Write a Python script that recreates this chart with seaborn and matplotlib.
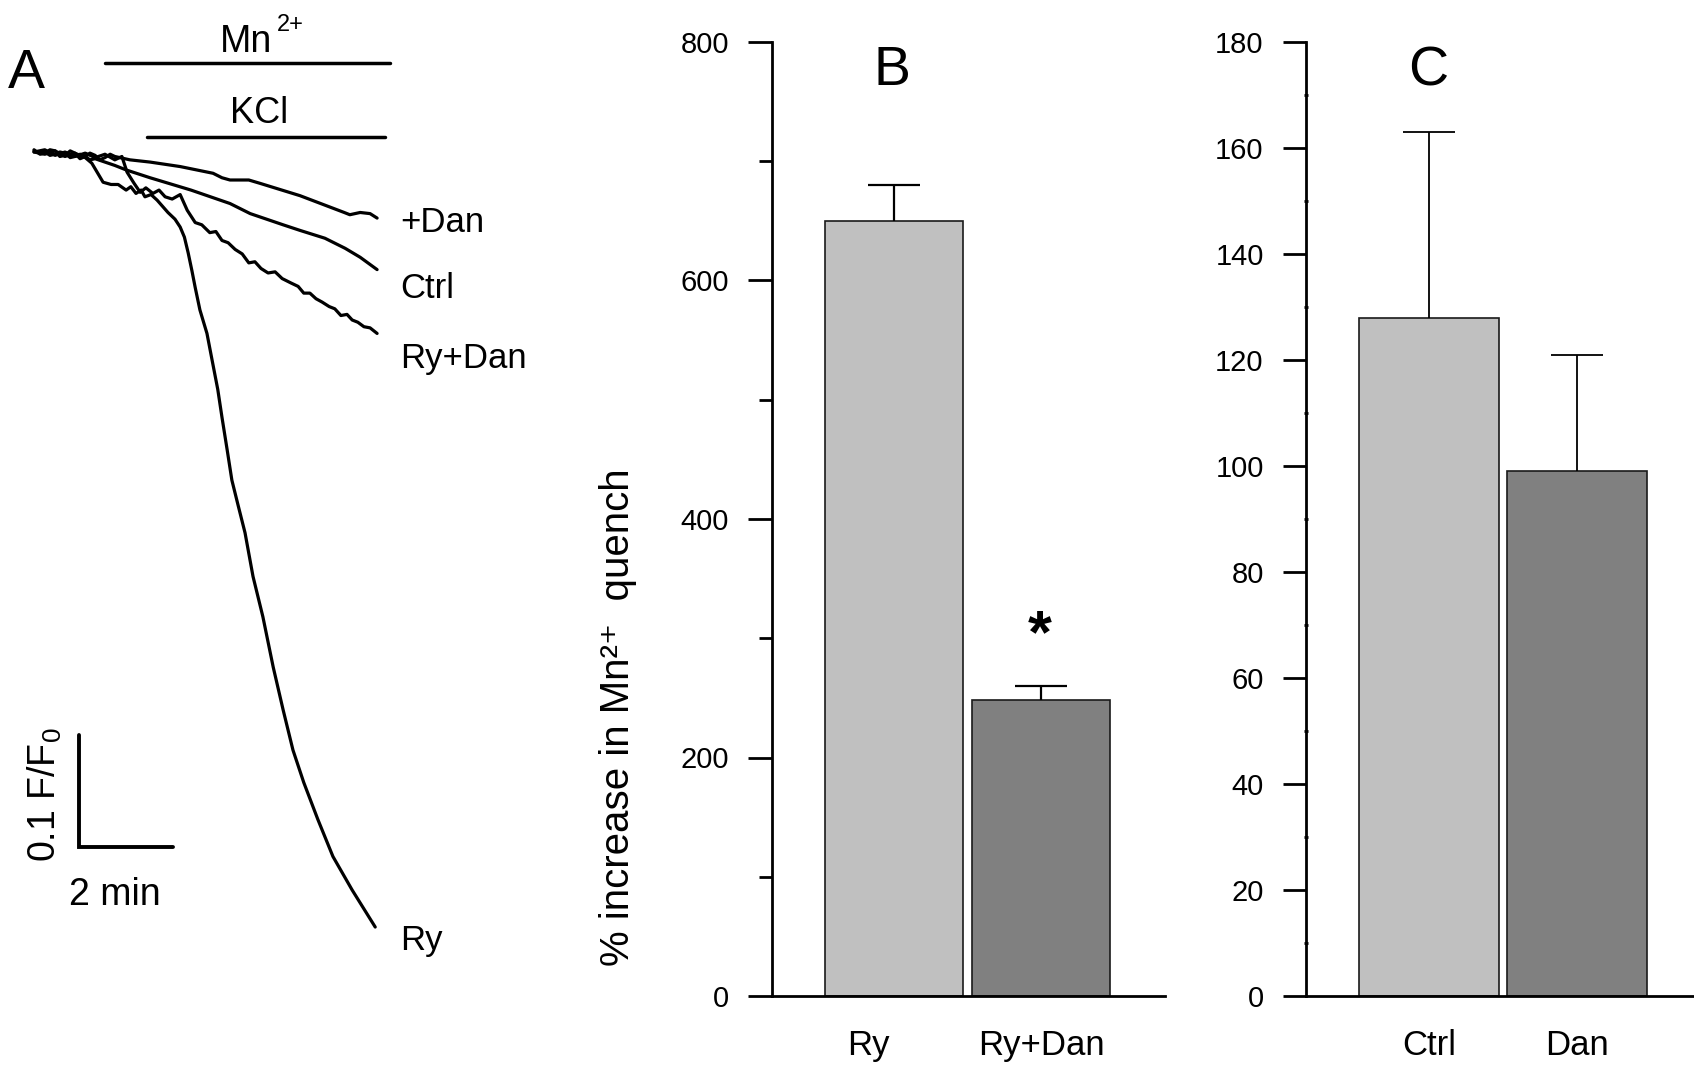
import numpy as np
import pandas as pd
import matplotlib
matplotlib.use("Agg")
import matplotlib.pyplot as plt
import seaborn as sns
from matplotlib.ticker import MultipleLocator
from matplotlib.transforms import ScaledTranslation

# ---------------- data ----------------
# Panel A: Mn2+ quench traces (time in min, normalised fluorescence F/F0)
dan_t = [0.00, 0.13, 0.23, 0.34, 0.45, 0.55, 0.66, 0.77, 0.87, 0.98, 1.09, 1.19, 1.30, 1.40,
         1.51, 1.62, 1.72, 2.04, 2.47, 3.11, 3.81, 4.00, 4.17, 4.57, 4.81, 5.66, 6.60, 6.72,
         6.94, 7.15, 7.30]
dan_f = [1.002, 0.998, 0.999, 1.002, 1.001, 0.996, 0.997, 1.001, 0.999, 0.994, 0.996, 0.999,
         0.997, 0.993, 0.995, 0.998, 0.996, 0.993, 0.991, 0.987, 0.981, 0.977, 0.975, 0.975,
         0.972, 0.961, 0.946, 0.944, 0.946, 0.945, 0.941]

ctrl_t = [0.00, 0.13, 0.23, 0.34, 0.45, 0.55, 0.66, 0.77, 0.87, 0.98, 1.09, 1.19, 1.30, 1.51,
          1.72, 1.96, 2.47, 3.34, 4.17, 4.60, 5.30, 5.66, 6.19, 6.62, 6.94, 7.30]
ctrl_f = [1.001, 0.999, 1.000, 0.997, 0.998, 1.000, 0.999, 0.995, 0.996, 0.998, 0.996, 0.993,
          0.994, 0.991, 0.988, 0.984, 0.977, 0.966, 0.954, 0.945, 0.935, 0.930, 0.923, 0.914,
          0.906, 0.895]

rydan_t = [0.00, 0.23, 0.45, 0.66, 0.87, 1.09, 1.30, 1.51, 1.72, 1.87, 1.98, 2.13, 2.26, 2.38,
           2.53, 2.66, 2.79, 2.94, 3.11, 3.26, 3.43, 3.57, 3.74, 3.87, 4.00, 4.13, 4.28, 4.43,
           4.57, 4.70, 4.83, 4.98, 5.13, 5.28, 5.47, 5.62, 5.74, 5.87, 6.00, 6.13, 6.28, 6.40,
           6.53, 6.66, 6.77, 6.89, 7.02, 7.15, 7.30]
rydan_f = [1.000, 1.002, 0.997, 1.000, 0.996, 0.999, 0.995, 0.998, 0.993, 0.996, 0.982, 0.972,
           0.964, 0.968, 0.963, 0.966, 0.960, 0.958, 0.962, 0.948, 0.937, 0.935, 0.928, 0.929,
           0.921, 0.919, 0.913, 0.909, 0.901, 0.902, 0.896, 0.892, 0.893, 0.887, 0.883, 0.880,
           0.874, 0.874, 0.869, 0.866, 0.862, 0.860, 0.854, 0.855, 0.850, 0.848, 0.844, 0.843,
           0.838]

ry_t = [0.00, 0.23, 0.45, 0.66, 0.87, 1.09, 1.23, 1.47, 1.64, 1.79, 1.96, 2.06, 2.17, 2.28,
        2.36, 2.49, 2.62, 2.85, 3.00, 3.11, 3.20, 3.28, 3.36, 3.43, 3.53, 3.68, 3.79, 3.91,
        4.00, 4.11, 4.21, 4.34, 4.49, 4.66, 4.87, 5.09, 5.30, 5.51, 5.74, 6.04, 6.36, 6.77,
        7.26]
ry_f = [1.000, 0.998, 1.001, 0.996, 0.999, 0.995, 0.990, 0.973, 0.971, 0.971, 0.966, 0.969,
        0.963, 0.966, 0.960, 0.962, 0.957, 0.946, 0.940, 0.933, 0.924, 0.910, 0.894, 0.879,
        0.859, 0.838, 0.814, 0.788, 0.763, 0.734, 0.707, 0.685, 0.660, 0.621, 0.585, 0.540,
        0.502, 0.466, 0.437, 0.404, 0.371, 0.341, 0.308]

trace_names = ["+Dan", "Ctrl", "Ry+Dan", "Ry"]

# application periods (min)
mn_on, mn_off = 1.51, 7.57
kcl_on, kcl_off = 2.40, 7.47

# Panel B
b_groups = ["Ry", "Ry+Dan"]
b_means = [650, 248]
b_sem = [30, 12]

# Panel C
c_groups = ["Ctrl", "Dan"]
c_means = [128, 99]
c_sem = [35, 22]

# ---------------- style ----------------
sns.set_style("white")
plt.rcParams["font.family"] = ["Liberation Sans", "DejaVu Sans"]
plt.rcParams["mathtext.fontset"] = "custom"
plt.rcParams["mathtext.rm"] = "Liberation Sans"
plt.rcParams["mathtext.default"] = "regular"
for k in ["text.color", "axes.labelcolor", "xtick.color", "ytick.color", "axes.edgecolor"]:
    plt.rcParams[k] = "black"

W, H = 1694, 1070
fig = plt.figure(figsize=(W / 100, H / 100), dpi=100)
fig.patch.set_facecolor("white")


def fx(px):
    return px / W


def fy(py):
    return 1 - py / H


light = "#C0C0C0"
dark = "#808080"

# ---------------- Panel A ----------------
axA = fig.add_axes([0, 0, 600 / W, 1])
df = pd.concat([
    pd.DataFrame({"t": dan_t, "f": dan_f, "trace": "+Dan"}),
    pd.DataFrame({"t": ctrl_t, "f": ctrl_f, "trace": "Ctrl"}),
    pd.DataFrame({"t": rydan_t, "f": rydan_f, "trace": "Ry+Dan"}),
    pd.DataFrame({"t": ry_t, "f": ry_f, "trace": "Ry"}),
])
sns.lineplot(data=df, x="t", y="f", units="trace", estimator=None, sort=False,
             color="black", lw=2.3, ax=axA)
axA.set_xlim(-34 / 47, 566 / 47)
axA.set_ylim(1 - (1070 - 152) / 1120, 1 + 152 / 1120)
axA.axis("off")

mn_level = 1 + (152 - 63) / 1120
kcl_level = 1 + (152 - 137) / 1120
axA.plot([mn_on, mn_off], [mn_level, mn_level], color="black", lw=2.5)
axA.plot([kcl_on, kcl_off], [kcl_level, kcl_level], color="black", lw=2.5)

# scale bar: 2 min x 0.1 F/F0
sb_t, sb_f = (79 - 34) / 47, 1 - (847 - 152) / 1120
axA.plot([sb_t, sb_t, sb_t + 2], [sb_f + 0.1, sb_f, sb_f], color="black", lw=2.8,
         solid_joinstyle="miter")

fig.text(fx(8), fy(88), "A", fontsize=40, ha="left", va="baseline")
fig.text(fx(220), fy(52), "Mn", fontsize=27, ha="left", va="baseline")
fig.text(fx(277), fy(31), "2+", fontsize=17, ha="left", va="baseline")
fig.text(fx(230), fy(123), "KCl", fontsize=26, ha="left", va="baseline")

label_base = [232, 298, 368, 950]
for name, yb in zip(trace_names, label_base):
    fig.text(fx(400), fy(yb), name, fontsize=25, ha="left", va="baseline")

fig.text(fx(69), fy(905), "2 min", fontsize=27, ha="left", va="baseline")
fig.text(fx(45), fy(795), "0.1 F/F$_0$", fontsize=27, rotation=90, ha="center", va="center")

# ---------------- Panel B ----------------
axB = fig.add_axes([fx(772), fy(996), (1165 - 772) / W, (996 - 42) / H])
sns.barplot(x=b_groups, y=b_means, hue=b_groups, palette=[light, dark], width=0.94,
            edgecolor="#1a1a1a", linewidth=1.2, legend=False, ax=axB)
eb = axB.errorbar([0, 1], b_means, yerr=[np.zeros(2), b_sem], fmt="none", ecolor="black",
                  elinewidth=1.6, capsize=19, capthick=1.6)
eb[1][0].set_visible(False)
axB.set_xlim(-0.830, 1.844)
axB.set_ylim(0, 800)
axB.yaxis.set_major_locator(MultipleLocator(200))
axB.yaxis.set_minor_locator(MultipleLocator(100))
axB.tick_params(axis="y", which="major", length=17, width=2, direction="out",
                labelsize=21, pad=14, left=True)
axB.tick_params(axis="y", which="minor", length=9.4, width=2, direction="out", left=True)
axB.tick_params(axis="x", length=0, labelsize=25, pad=24)
for s in ["top", "right"]:
    axB.spines[s].set_visible(False)
for s in ["left", "bottom"]:
    axB.spines[s].set_linewidth(2)
    axB.spines[s].set_color("black")
axB.set_xlabel("")
axB.set_ylabel("")
lbl = axB.get_xticklabels()[0]
lbl.set_transform(lbl.get_transform() + ScaledTranslation(-0.26, 0, fig.dpi_scale_trans))
fig.text(fx(892), fy(85), "B", fontsize=40, ha="center", va="baseline")
fig.text(fx(1040), fy(652), "*", fontsize=44, fontweight="bold", ha="center", va="baseline")
fig.text(fx(618), fy(717), "% increase in Mn\u00b2\u207a  quench", fontsize=29, rotation=90,
         ha="center", va="center")

# ---------------- Panel C ----------------
axC = fig.add_axes([fx(1306), fy(996), (1694 - 1306) / W, (996 - 42) / H])
sns.barplot(x=c_groups, y=c_means, hue=c_groups, palette=[light, dark], width=0.946,
            edgecolor="#1a1a1a", linewidth=1.2, legend=False, ax=axC)
ec = axC.errorbar([0, 1], c_means, yerr=[np.zeros(2), c_sem], fmt="none", ecolor="black",
                  elinewidth=1.3, capsize=19, capthick=1.3)
ec[1][0].set_visible(False)
axC.set_xlim(-0.831, 1.79)
axC.set_ylim(0, 180)
axC.yaxis.set_major_locator(MultipleLocator(20))
axC.yaxis.set_minor_locator(MultipleLocator(10))
axC.tick_params(axis="y", which="major", length=16.5, width=2, direction="out",
                labelsize=21, pad=14, left=True)
axC.tick_params(axis="y", which="minor", length=2.5, width=2, direction="inout", left=True)
axC.tick_params(axis="x", length=0, labelsize=25, pad=24)
for s in ["top", "right"]:
    axC.spines[s].set_visible(False)
for s in ["left", "bottom"]:
    axC.spines[s].set_linewidth(2)
    axC.spines[s].set_color("black")
axC.set_xlabel("")
axC.set_ylabel("")
fig.text(fx(1428), fy(85), "C", fontsize=40, ha="center", va="baseline")

fig.savefig("out.png", dpi=100, facecolor="white")
